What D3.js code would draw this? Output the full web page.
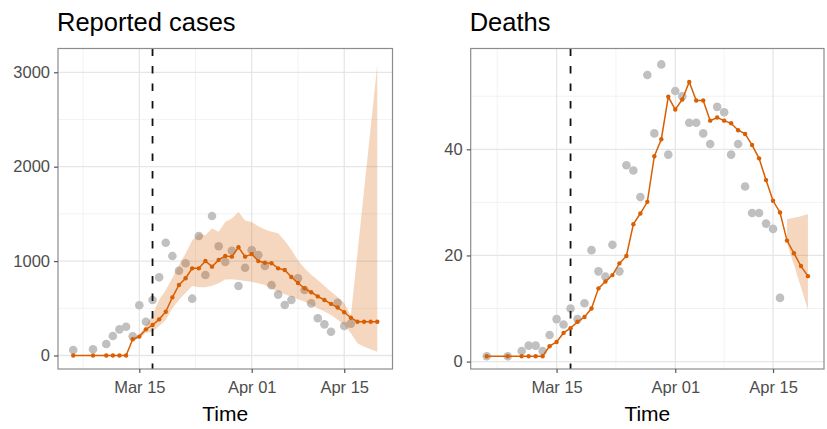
<!DOCTYPE html>
<html>
<head>
<meta charset="utf-8">
<script src="https://cdn.jsdelivr.net/npm/d3@7"></script>
<style>
  html, body { margin: 0; padding: 0; background: #fff; }
  svg { display: block; font-family: "Liberation Sans", Arial, Helvetica, sans-serif; }
</style>
</head>
<body>
<svg id="chart" width="827" height="429"></svg>
<script>
// Daily dates shared by both panels (fits run to Apr 20, observations to Apr 16)
const dates = [
  "2020-03-05","2020-03-08","2020-03-10","2020-03-11","2020-03-12","2020-03-13","2020-03-14",
  "2020-03-15","2020-03-16","2020-03-17","2020-03-18","2020-03-19","2020-03-20","2020-03-21",
  "2020-03-22","2020-03-23","2020-03-24","2020-03-25","2020-03-26","2020-03-27","2020-03-28",
  "2020-03-29","2020-03-30","2020-03-31","2020-04-01","2020-04-02","2020-04-03","2020-04-04",
  "2020-04-05","2020-04-06","2020-04-07","2020-04-08","2020-04-09","2020-04-10","2020-04-11",
  "2020-04-12","2020-04-13","2020-04-14","2020-04-15","2020-04-16","2020-04-17","2020-04-18",
  "2020-04-19","2020-04-20"
];
const obsCount = 40;          // observations cover the first 40 dates
const interventionDate = "2020-03-17";

// Reported cases
const casesObserved = [58,66,122,206,277,305,203,532,358,588,828,1195,1054,898,977,602,1266,853,1478,1157,990,1110,736,930,
  1118,1065,948,745,645,535,588,817,694,552,395,330,252,558,312,338];
const casesFit = [0,0,0,0,0,0,172,200,277,323,383,464,616,747,818,923,923,1001,941,1012,1054,1047,1146,1047,
  1075,1000,983,977,923,906,832,768,712,670,626,588,547,508,458,400,358,358,358,358];
const casesUpper = [0,0,0,0,0,0,185,225,315,430,590,695,820,960,1080,1220,1290,1275,1345,1310,1415,1450,1520,1430,
  1415,1370,1335,1310,1295,1215,1120,1010,925,855,800,735,675,620,555,420,1085,1750,2415,3080];
const casesLower = [0,0,0,0,0,0,160,180,240,252,312,376,500,588,665,736,722,722,740,765,805,807,800,790,
  782,765,747,710,676,650,623,597,570,535,500,465,429,378,323,235,129,93,66,40];

// Deaths
const deathsObserved = [1,1,2,3,3,2,5,8,7,10,8,11,21,17,16,22,17,37,36,31,54,43,56,39,
  51,50,45,45,43,41,48,47,39,41,33,28,28,26,25,12];
const deathsFit = [1,1,1,1,1,1,2.9,3.7,5.4,6.3,7.5,8.4,10.0,13.8,15.1,16.3,18.5,19.9,25.9,27.9,30.1,38.7,41.9,49.9,
  47.5,49.4,52.7,49.2,49.2,45.4,46.0,45.4,44.9,43.6,42.9,40.8,38.3,34.2,30.3,28.1,22.8,20.4,18.0,16.1];
const deathsUpper = [null,null,null,null,null,null,null,null,null,null,null,null,null,null,null,null,null,null,null,null,null,null,null,null,
  null,null,null,null,null,null,null,null,null,null,null,null,null,null,null,null,26.8,27.1,27.4,27.8];
const deathsLower = [null,null,null,null,null,null,null,null,null,null,null,null,null,null,null,null,null,null,null,null,null,null,null,null,
  null,null,null,null,null,null,null,null,null,null,null,null,null,null,null,null,22.3,18.2,14.0,9.7];

// Axis breaks
const xBreaks = ["2020-03-15","2020-04-01","2020-04-15"];
const xMinorBreaks = ["2020-03-06T12:00","2020-03-23T12:00","2020-04-08"];
const casesTicks = [0,1000,2000,3000];
const casesMinor = [500,1500,2500];
const deathsTicks = [0,20,40];
const deathsMinor = [10,30,50];

const parse = s => new Date(s.length > 10 ? s + ":00Z" : s + "T00:00:00Z");
const fmt = d3.utcFormat("%b %d");

const ORANGE = "#d95f02";
const svg = d3.select("#chart");

function panel(opt) {
  const dts = dates.map(parse);
  const [d0, d1] = d3.extent(dts);
  const pad = (d1 - d0) * 0.05;
  const x = d3.scaleUtc().domain([new Date(+d0 - pad), new Date(+d1 + pad)]).range([opt.left, opt.right]);
  const y = d3.scaleLinear().domain(opt.yDomain).range([opt.bottom, opt.top]);

  const g = svg.append("g");

  // grid
  const grid = g.append("g");
  grid.selectAll(".ymin").data(opt.yMinor).join("line")
    .attr("x1", opt.left).attr("x2", opt.right)
    .attr("y1", d => y(d)).attr("y2", d => y(d))
    .attr("stroke", "#ececec").attr("stroke-width", 0.7);
  grid.selectAll(".xmin").data(xMinorBreaks.map(parse)).join("line")
    .attr("y1", opt.top).attr("y2", opt.bottom)
    .attr("x1", d => x(d)).attr("x2", d => x(d))
    .attr("stroke", "#ececec").attr("stroke-width", 0.7);
  grid.selectAll(".ymaj").data(opt.yTicks).join("line")
    .attr("x1", opt.left).attr("x2", opt.right)
    .attr("y1", d => y(d)).attr("y2", d => y(d))
    .attr("stroke", "#e6e6e6").attr("stroke-width", 1.3);
  grid.selectAll(".xmaj").data(xBreaks.map(parse)).join("line")
    .attr("y1", opt.top).attr("y2", opt.bottom)
    .attr("x1", d => x(d)).attr("x2", d => x(d))
    .attr("stroke", "#e6e6e6").attr("stroke-width", 1.3);

  // observed points
  g.append("g").selectAll("circle")
    .data(opt.observed.map((v, i) => ({d: dts[i], v})))
    .join("circle")
    .attr("cx", p => x(p.d)).attr("cy", p => y(p.v)).attr("r", 4.3)
    .attr("fill", "#c0c0c0");

  // uncertainty band
  const band = dts.map((d, i) => ({d, lo: opt.lower[i], hi: opt.upper[i]}));
  g.append("path")
    .datum(band)
    .attr("d", d3.area()
      .defined(p => p.lo != null && p.hi != null)
      .x(p => x(p.d)).y0(p => y(p.lo)).y1(p => y(p.hi)))
    .attr("fill", ORANGE).attr("fill-opacity", 0.25);

  // intervention date
  const xv = x(parse(interventionDate));
  g.append("line")
    .attr("x1", xv).attr("x2", xv).attr("y1", opt.top).attr("y2", opt.bottom)
    .attr("stroke", "#111").attr("stroke-width", 1.8).attr("stroke-dasharray", "7.5,10");

  // fitted line with points
  const fit = dts.map((d, i) => ({d, v: opt.fit[i]}));
  g.append("path").datum(fit)
    .attr("d", d3.line().x(p => x(p.d)).y(p => y(p.v)))
    .attr("fill", "none").attr("stroke", ORANGE).attr("stroke-width", 1.5);
  g.append("g").selectAll("circle").data(fit).join("circle")
    .attr("cx", p => x(p.d)).attr("cy", p => y(p.v)).attr("r", 2.2)
    .attr("fill", ORANGE);

  // panel border
  g.append("rect")
    .attr("x", opt.left).attr("y", opt.top)
    .attr("width", opt.right - opt.left).attr("height", opt.bottom - opt.top)
    .attr("fill", "none").attr("stroke", "#8c8c8c").attr("stroke-width", 1.2);

  // axes
  const xAxis = d3.axisBottom(x).tickValues(xBreaks.map(parse)).tickFormat(fmt)
    .tickSizeInner(4).tickSizeOuter(0).tickPadding(4);
  const gx = g.append("g").attr("transform", `translate(0,${opt.bottom})`).call(xAxis);
  const yAxis = d3.axisLeft(y).tickValues(opt.yTicks).tickFormat(d3.format("d"))
    .tickSizeInner(4).tickSizeOuter(0).tickPadding(4);
  const gy = g.append("g").attr("transform", `translate(${opt.left},0)`).call(yAxis);
  [gx, gy].forEach(a => {
    a.select(".domain").remove();
    a.selectAll(".tick line").attr("stroke", "#555").attr("stroke-width", 1.2);
    a.selectAll(".tick text").attr("fill", "#4d4d4d").attr("font-size", 16.5).attr("font-family", null);
  });
  gx.selectAll(".tick text").attr("dy", "0.95em");

  // titles
  g.append("text").attr("x", opt.left - 1).attr("y", 31)
    .attr("font-size", 25.5).attr("fill", "#000").text(opt.title);
  g.append("text").attr("x", (opt.left + opt.right) / 2).attr("y", 421)
    .attr("text-anchor", "middle").attr("font-size", 21).attr("fill", "#000").text("Time");
}

panel({
  title: "Reported cases",
  left: 58, right: 392.5, top: 48.5, bottom: 369,
  yDomain: [-143, 3252], yTicks: casesTicks, yMinor: casesMinor,
  observed: casesObserved.slice(0, obsCount), fit: casesFit, lower: casesLower, upper: casesUpper
});
panel({
  title: "Deaths",
  left: 470.7, right: 824, top: 48.5, bottom: 369,
  yDomain: [-1.4, 59.0], yTicks: deathsTicks, yMinor: deathsMinor,
  observed: deathsObserved.slice(0, obsCount), fit: deathsFit, lower: deathsLower, upper: deathsUpper
});
</script>
</body>
</html>
